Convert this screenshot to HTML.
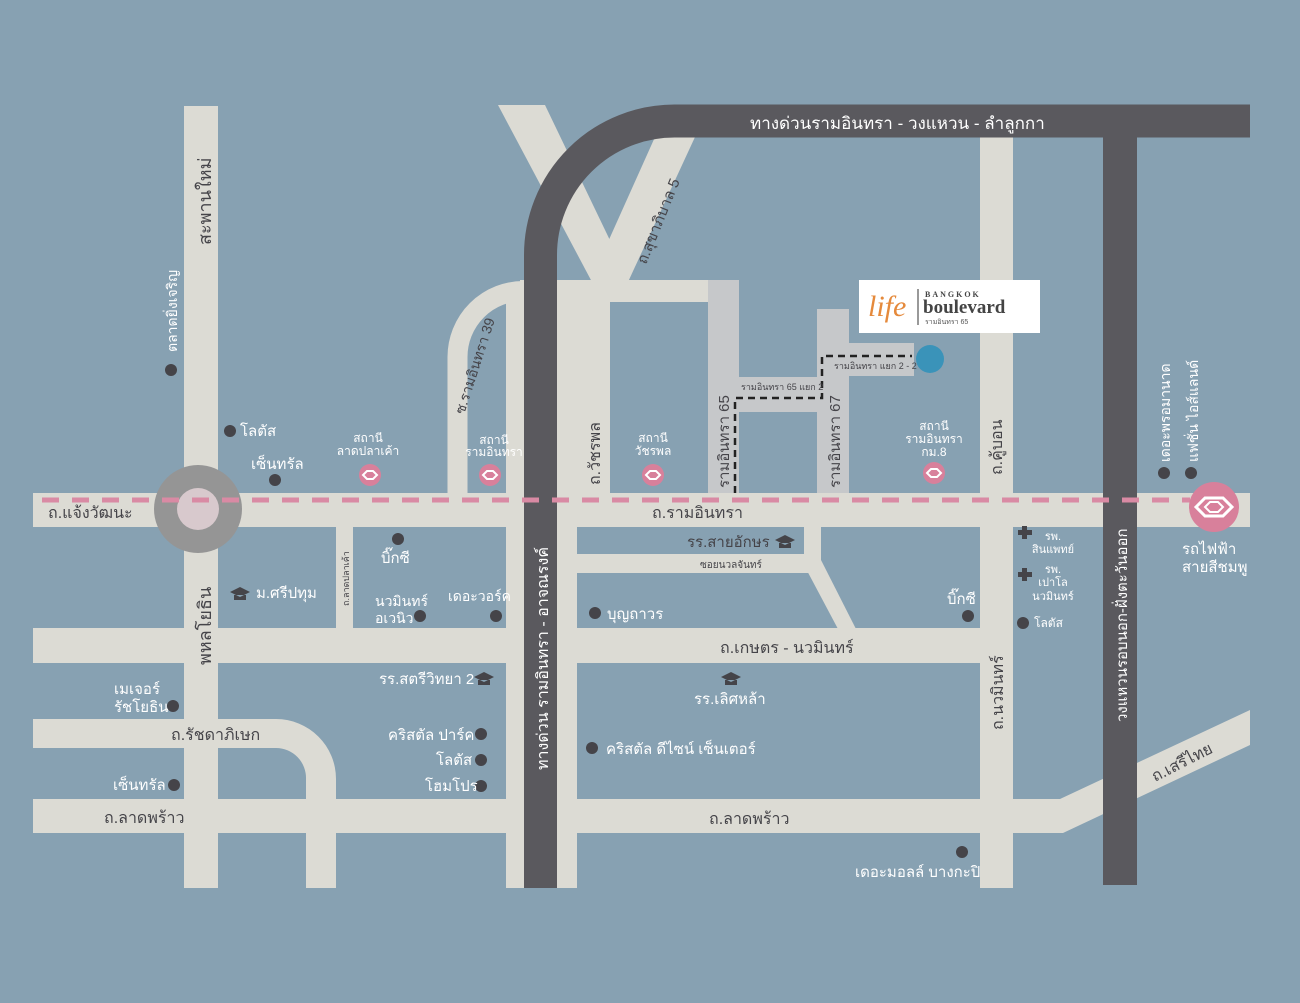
<!DOCTYPE html>
<html><head><meta charset="utf-8"><style>
html,body{margin:0;padding:0;background:#87a1b2;}
svg{display:block;font-family:"Liberation Sans","DejaVu Sans",sans-serif;}
.d{fill:#454449;}
.w{fill:#ffffff;}
.s{fill:#ffffff;}
</style></head><body>
<svg width="1300" height="1003" viewBox="0 0 1300 1003" xmlns="http://www.w3.org/2000/svg" font-size="16">
<rect width="1300" height="1003" fill="#87a1b2"/>
<g fill="#dcdbd4">
<rect x="184" y="106" width="34" height="782"/>
<rect x="33" y="493" width="1217" height="34"/>
<rect x="336" y="527" width="17" height="102"/>
<rect x="33" y="628" width="947" height="35"/>
<path d="M33,719 H276 A60,60 0 0 1 336,779 V888 H306 V779 A30,30 0 0 0 276,748 H33 Z"/>
<rect x="33" y="799" width="1030" height="34"/>
<polygon points="1060,799 1250,710 1250,745 1063,833"/>
<rect x="506" y="290" width="71" height="598"/>
<polygon points="498,105 545,105 630,282 592,282"/>
<polygon points="655,137 695,137 628,282 590,282"/>
<rect x="520" y="280" width="190" height="22"/>
<path d="M457.5,495 V357 A66,66 0 0 1 524,291" fill="none" stroke="#dcdbd4" stroke-width="20"/>
<rect x="577" y="280" width="33" height="215"/>
<rect x="980" y="130" width="33" height="758"/>
<rect x="577" y="554" width="235" height="19"/>
<rect x="804" y="525" width="17" height="40"/>
<polygon points="804,565 821,560 856,629 838,629"/>
</g>
<g fill="#c6c8ca">
<rect x="708" y="280" width="31" height="213"/>
<rect x="739" y="377" width="79" height="35"/>
<rect x="817" y="309" width="32" height="184"/>
<rect x="849" y="343" width="65" height="33"/>
</g>
<path d="M540.5,888 V255 A134,134 0 0 1 674.5,121 H1250" fill="none" stroke="#5a595e" stroke-width="33"/>
<rect x="1103" y="137" width="34" height="748" fill="#5a595e"/>
<circle cx="198" cy="509" r="44" fill="#959595"/>
<circle cx="198" cy="509" r="21" fill="#d8c9cd"/>
<line x1="42" y1="500" x2="1190" y2="500" stroke="#d98aa4" stroke-width="5" stroke-dasharray="17,13"/>
<path d="M735,493 V398 H822 V356 H912" fill="none" stroke="#222" stroke-width="2.5" stroke-dasharray="7,5"/>
<circle cx="930" cy="359" r="14" fill="#3a93b9"/>
<rect x="859" y="280" width="181" height="53" fill="#ffffff"/>
<text x="868" y="316" font-family="Liberation Serif,serif" font-style="italic" font-size="30" fill="#e58a3c">life</text>
<rect x="917" y="289" width="2" height="36" fill="#999"/>
<text x="925" y="297" font-family="Liberation Serif,serif" font-size="8" letter-spacing="2" fill="#444" font-weight="bold">BANGKOK</text>
<text x="923" y="313" font-family="Liberation Serif,serif" font-size="19" font-weight="bold" fill="#444">boulevard</text>
<text x="925" y="324" font-size="7" fill="#555">รามอินทรา 65</text>
<g fill="#d8809b">
<circle cx="370" cy="475" r="11"/><circle cx="490" cy="475" r="11"/><circle cx="653" cy="475" r="11"/><circle cx="934" cy="473" r="11"/>
<circle cx="1214" cy="507" r="25"/>
</g>
<g fill="none" stroke="#fff" stroke-width="2">
<path d="M363,475 l4,-4 l6,0 l4,4 l-4,4 l-6,0 z"/><path d="M483,475 l4,-4 l6,0 l4,4 l-4,4 l-6,0 z"/><path d="M646,475 l4,-4 l6,0 l4,4 l-4,4 l-6,0 z"/><path d="M927,473 l4,-4 l6,0 l4,4 l-4,4 l-6,0 z"/>
<path d="M1196,507 l9,-9 l18,0 l9,9 l-9,9 l-18,0 z" stroke-width="3"/><path d="M1205,507 l5,-5 l8,0 l5,5 l-5,5 l-8,0 z" stroke-width="2"/>
</g>
<g fill="#454449">
<circle cx="171" cy="370" r="6"/><circle cx="230" cy="431" r="6"/><circle cx="275" cy="480" r="6"/>
<circle cx="398" cy="539" r="6"/><circle cx="420" cy="616" r="6"/><circle cx="496" cy="616" r="6"/>
<circle cx="173" cy="706" r="6"/><circle cx="174" cy="785" r="6"/>
<circle cx="481" cy="734" r="6"/><circle cx="481" cy="760" r="6"/><circle cx="481" cy="786" r="6"/>
<circle cx="595" cy="613" r="6"/><circle cx="968" cy="616" r="6"/><circle cx="1023" cy="623" r="6"/>
<circle cx="592" cy="748" r="6"/><circle cx="962" cy="852" r="6"/>
<circle cx="1164" cy="473" r="6"/><circle cx="1191" cy="473" r="6"/>
<rect x="1018" y="530" width="14" height="5"/><rect x="1022" y="526" width="5" height="13"/>
<rect x="1018" y="572" width="14" height="5"/><rect x="1022" y="568" width="5" height="13"/>
<path d="M230,592 l10,-5 l10,5 l-10,5 z M234,595 v5 h12 v-5 z"/>
<path d="M775,540 l10,-5 l10,5 l-10,5 z M779,543 v5 h12 v-5 z"/>
<path d="M474,677 l10,-5 l10,5 l-10,5 z M478,680 v5 h12 v-5 z"/>
<path d="M721,677 l10,-5 l10,5 l-10,5 z M725,680 v5 h12 v-5 z"/>
</g>
<!-- labels on dark expressways -->
<g fill="#ffffff">
<text x="750" y="129" font-size="17">ทางด่วนรามอินทรา - วงแหวน - ลำลูกกา</text>
<text transform="translate(548,770) rotate(-90)" font-size="16">ทางด่วน รามอินทรา - อาจณรงค์</text>
<text transform="translate(1127,722) rotate(-90)" font-size="15">วงแหวนรอบนอก-ฝั่งตะวันออก</text>
</g>
<g class="d">
<text x="48" y="518">ถ.แจ้งวัฒนะ</text>
<text x="652" y="518">ถ.รามอินทรา</text>
<text x="720" y="653">ถ.เกษตร - นวมินทร์</text>
<text x="171" y="740">ถ.รัชดาภิเษก</text>
<text x="104" y="823">ถ.ลาดพร้าว</text>
<text x="709" y="824">ถ.ลาดพร้าว</text>
<text x="700" y="568" font-size="10">ซอยนวลจันทร์</text>
<text x="687" y="547" font-size="15">รร.สายอักษร</text>
<text font-size="9" x="741" y="390">รามอินทรา 65 แยก 2</text>
<text font-size="9" x="834" y="369">รามอินทรา แยก 2 - 2</text>
<text transform="translate(211,245) rotate(-90)" font-size="18">สะพานใหม่</text>
<text transform="translate(211,665) rotate(-90)" font-size="18">พหลโยธิน</text>
<text transform="translate(600,485) rotate(-90)">ถ.วัชรพล</text>
<text transform="translate(729,488) rotate(-90)" font-size="15">รามอินทรา 65</text>
<text transform="translate(840,488) rotate(-90)" font-size="15">รามอินทรา 67</text>
<text transform="translate(1002,475) rotate(-90)">ถ.คู้บอน</text>
<text transform="translate(1003,730) rotate(-90)">ถ.นวมินทร์</text>
<text transform="translate(349,606) rotate(-90)" font-size="9">ถ.ลาดปลาเค้า</text>
<text transform="translate(464,415) rotate(-72)" font-size="14">ซ.รามอินทรา 39</text>
<text transform="translate(646,265) rotate(-68)" font-size="15">ถ.สุขาภิบาล 5</text>
<text transform="translate(1155,782) rotate(-27)" font-size="16">ถ.เสรีไทย</text>
</g>
<g class="w" font-size="15">
<text transform="translate(177,352) rotate(-90)" font-size="14">ตลาดยิ่งเจริญ</text>
<text x="240" y="436">โลตัส</text>
<text x="251" y="469">เซ็นทรัล</text>
<text x="381" y="563">บิ๊กซี</text>
<text x="256" y="598">ม.ศรีปทุม</text>
<text x="375" y="606" font-size="14">นวมินทร์</text>
<text x="375" y="623" font-size="14">อเวนิว</text>
<text x="448" y="601" font-size="14">เดอะวอร์ค</text>
<text x="379" y="684">รร.สตรีวิทยา 2</text>
<text x="114" y="694">เมเจอร์</text>
<text x="114" y="712">รัชโยธิน</text>
<text x="113" y="790">เซ็นทรัล</text>
<text x="388" y="740">คริสตัล ปาร์ค</text>
<text x="436" y="765">โลตัส</text>
<text x="425" y="791">โฮมโปร</text>
<text x="607" y="619">บุญถาวร</text>
<text x="947" y="604">บิ๊กซี</text>
<text x="694" y="704">รร.เลิศหล้า</text>
<text x="606" y="754">คริสตัล ดีไซน์ เซ็นเตอร์</text>
<text x="855" y="877">เดอะมอลล์ บางกะปิ</text>
<text x="1182" y="554">รถไฟฟ้า</text>
<text x="1182" y="572">สายสีชมพู</text>
<text transform="translate(1170,462) rotate(-90)" font-size="14">เดอะพรอมานาด</text>
<text transform="translate(1198,462) rotate(-90)" font-size="14">แฟชั่น ไอส์แลนด์</text>
<text x="1034" y="627" font-size="12">โลตัส</text>
</g>
<g class="s" text-anchor="middle" font-size="12">
<text x="368" y="442">สถานี</text><text x="368" y="455">ลาดปลาเค้า</text>
<text x="494" y="444">สถานี</text><text x="494" y="456">รามอินทรา</text>
<text x="653" y="442">สถานี</text><text x="653" y="455">วัชรพล</text>
<text x="934" y="430">สถานี</text><text x="934" y="443">รามอินทรา</text><text x="934" y="456">กม.8</text>
<text x="1053" y="540" font-size="11">รพ.</text><text x="1053" y="553" font-size="11">สินแพทย์</text>
<text x="1053" y="573" font-size="11">รพ.</text><text x="1053" y="586" font-size="11">เปาโล</text><text x="1053" y="600" font-size="11">นวมินทร์</text>
</g>
</svg>
</body></html>
